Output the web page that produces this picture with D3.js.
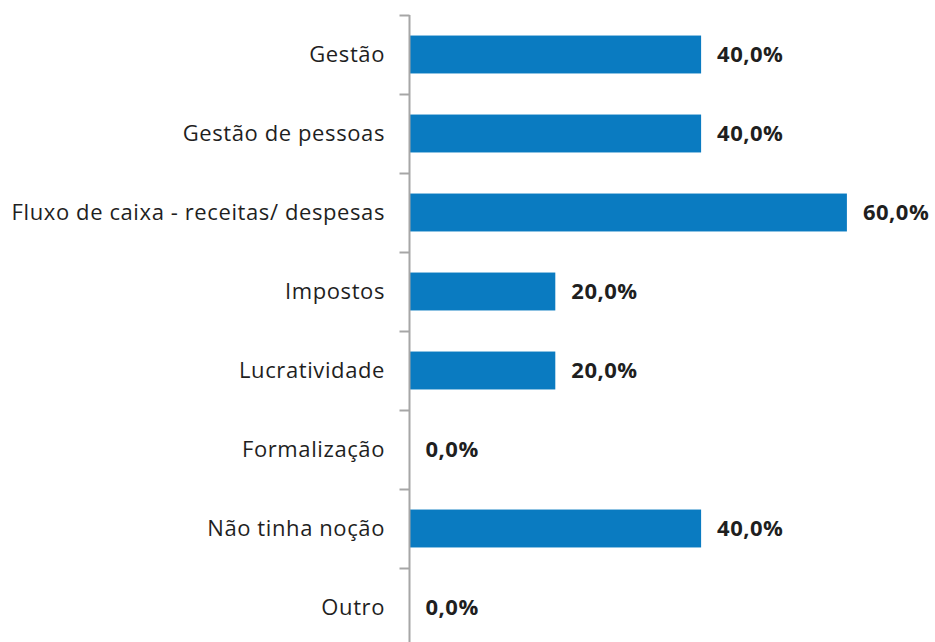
<!DOCTYPE html>
<html>
<head>
<meta charset="utf-8">
<script src="https://cdn.jsdelivr.net/npm/d3@7"></script>
<style>
  html, body { margin: 0; padding: 0; background: #fff; }
  svg { display: block; }
  text { font-family: "Open Sans", "DejaVu Sans", sans-serif; fill: #1f1f1f; }
</style>
</head>
<body>
<svg id="chart" width="935" height="642"></svg>
<script>
const categories = ["Gestão", "Gestão de pessoas", "Fluxo de caixa - receitas/ despesas", "Impostos", "Lucratividade", "Formalização", "Não tinha noção", "Outro"];
const values = [0.40, 0.40, 0.60, 0.20, 0.20, 0.00, 0.40, 0.00];

const svg = d3.select("#chart");
const axisX = 409.5;
const y = d3.scaleBand().domain(categories).range([15, 647]).paddingInner(0.52).paddingOuter(0.26);
const x = d3.scaleLinear().domain([0, 1]).range([axisX, axisX + 729]);

const data = categories.map((c, i) => ({ c, v: values[i] }));

svg.selectAll("rect.bar").data(data).join("rect")
  .attr("class", "bar")
  .attr("x", x(0))
  .attr("y", d => y(d.c))
  .attr("width", d => x(d.v) - x(0))
  .attr("height", y.bandwidth())
  .attr("fill", "#0A7BC1");

// axis line with tick marks at band boundaries
const step = y.step();
const boundaries = d3.range(categories.length + 1).map(i => 15 + i * step);
const g = svg.append("g");
g.append("line").attr("x1", axisX).attr("x2", axisX).attr("y1", 15).attr("y2", 642)
  .attr("stroke", "#A6A6A6").attr("stroke-width", 2);
g.selectAll("line.tick").data(boundaries).join("line").attr("class", "tick")
  .attr("x1", axisX - 10).attr("x2", axisX).attr("y1", d => Math.round(d) + 0.5).attr("y2", d => Math.round(d) + 0.5)
  .attr("stroke", "#A6A6A6").attr("stroke-width", 2);

svg.selectAll("text.cat").data(categories).join("text")
  .attr("class", "cat")
  .attr("x", 385)
  .attr("y", d => y(d) + y.bandwidth() / 2)
  .attr("dy", "0.35em")
  .attr("text-anchor", "end")
  .style("font-size", "22px")
  .style("letter-spacing", "0.6px")
  .text(d => d);

const fmt = v => (v * 100).toFixed(1).replace(".", ",") + "%";
svg.selectAll("text.val").data(data).join("text")
  .attr("class", "val")
  .attr("x", d => x(d.v) + 16)
  .attr("y", d => y(d.c) + y.bandwidth() / 2)
  .attr("dy", "0.35em")
  .style("font-size", "22px")
  .style("font-weight", "bold")
  .style("letter-spacing", "0.5px")
  .text(d => fmt(d.v));
</script>
</body>
</html>
